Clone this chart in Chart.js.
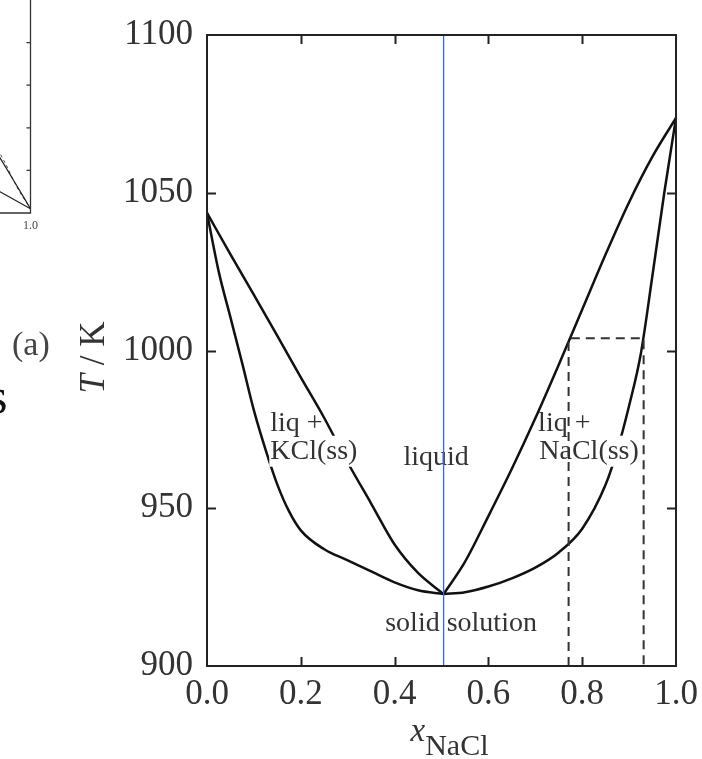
<!DOCTYPE html>
<html>
<head>
<meta charset="utf-8">
<script src="https://cdn.jsdelivr.net/npm/chart.js@4.4.0/dist/chart.umd.min.js"></script>
<style>
html, body { margin: 0; padding: 0; background: #fff; overflow: hidden; }
#wrap { position: relative; width: 702px; height: 759px; overflow: hidden; }
#side { position: absolute; left: -280px; top: 0; }
#main { position: absolute; left: 0; top: 0; }
</style>
</head>
<body>
<div id="wrap">
  <canvas id="side" width="324" height="240"></canvas>
  <canvas id="main" width="702" height="759"></canvas>
</div>
<script>
// KCl-NaCl phase diagram (right panel)
const serif = "'Liberation Serif', 'DejaVu Serif', serif";

// left liquidus / solidus (KCl rich side)
const liqLeftX = [0, 0.05, 0.1, 0.15, 0.2, 0.25, 0.3, 0.35, 0.4, 0.45, 0.5045];
const liqLeftT = [1043.6, 1030.5, 1017.6, 1004.6, 991.5, 978.6, 964.5, 951.5, 938.5, 929.5, 922.8];
const solLeftX = [0, 0.025, 0.05, 0.075, 0.1, 0.125, 0.15, 0.175, 0.2, 0.25, 0.3, 0.35, 0.4, 0.45, 0.5045];
const solLeftT = [1043.6, 1025, 1010.5, 996, 981, 968.5, 957.5, 949, 943, 937, 933.5, 930, 926.5, 924, 922.8];

// right liquidus / solidus (NaCl rich side)
const liqRightX = [0.5045, 0.55, 0.6, 0.65, 0.7, 0.75, 0.8, 0.85, 0.9, 0.95, 1.0];
const liqRightT = [922.8, 933, 947.5, 962.5, 978.5, 995.5, 1013, 1030.5, 1047, 1061.5, 1073.7];
const solRightX = [0.5045, 0.55, 0.6, 0.65, 0.7, 0.75, 0.8, 0.85, 0.875, 0.9, 0.925, 0.95, 0.975, 1.0];
const solRightT = [922.8, 923.4, 925.2, 927.8, 931.2, 936, 943.5, 957.5, 968.5, 982.5, 999, 1024, 1050, 1073.7];

// azeotrope marker and tie line
const azeoX = [0.5045, 0.5045];
const azeoT = [900, 1100];
const tieX = [0.771, 0.771, 0.931, 0.931];
const tieT = [900, 1003.9, 1003.9, 900];

// region labels
const regionText = ['liq +', 'KCl(ss)', 'liquid', 'liq +', 'NaCl(ss)', 'solid solution'];
const regionX = [0.135, 0.135, 0.419, 0.706, 0.7085, 0.380];
const regionT = [974.4, 965.7, 963.8, 974.4, 965.7, 911.1];
const regionMask = [false, true, false, false, true, false];

// fragment of neighbouring panel (cut off at left)
const sideUpperX = [0.8, 0.88, 0.939, 1.0];
const sideUpperY = [0.44, 0.282, 0.155, 0.02];
const sideLowerX = [0.8, 0.88, 1.0];
const sideLowerY = [0.167, 0.108, 0.02];
const sideDashX = [0.85, 0.904, 0.951, 1.0];
const sideDashY = [0.37, 0.249, 0.123, 0.02];

const pts = (xs, ys) => xs.map((x, i) => ({ x: x, y: ys[i] }));

function curve(xs, ys) {
    return {
        data: pts(xs, ys),
        borderColor: '#111',
        borderWidth: 2.5,
        pointRadius: 0,
        cubicInterpolationMode: 'monotone',
        order: 2
    };
}

function drawRegionLabels(chart) {
    const ctx = chart.ctx;
    const sx = chart.scales.x, sy = chart.scales.y;
    ctx.save();
    ctx.font = '28px ' + serif;
    ctx.textBaseline = 'alphabetic';
    ctx.textAlign = 'left';
    regionText.forEach((t, i) => {
        if (!regionMask[i]) return;
        const px = sx.getPixelForValue(regionX[i]);
        const py = sy.getPixelForValue(regionT[i]);
        const w = ctx.measureText(t).width;
        ctx.fillStyle = '#fff';
        ctx.fillRect(px - 1, py - 23, w + 2, 31);
    });
    ctx.fillStyle = '#333';
    regionText.forEach((t, i) => {
        ctx.fillText(t, sx.getPixelForValue(regionX[i]), sy.getPixelForValue(regionT[i]));
    });
    ctx.restore();
}

const framePlugin = {
    id: 'framePlugin',
    beforeDatasetDraw(chart, args) {
        // labels sit above the phase boundaries but below the tie line
        if (args.index === 1) drawRegionLabels(chart);
    },
    afterDraw(chart) {
        const ctx = chart.ctx;
        const a = chart.chartArea;
        const sx = chart.scales.x, sy = chart.scales.y;
        ctx.save();
        ctx.strokeStyle = '#222';
        ctx.lineWidth = 2;
        ctx.strokeRect(a.left, a.top, a.right - a.left, a.bottom - a.top);

        // inward ticks on all sides
        const tl = 9;
        ctx.beginPath();
        sx.ticks.forEach(t => {
            if (t.value <= sx.min || t.value >= sx.max) return;
            const p = Math.round(sx.getPixelForValue(t.value)) + 0.5;
            ctx.moveTo(p, a.bottom); ctx.lineTo(p, a.bottom - tl);
            ctx.moveTo(p, a.top); ctx.lineTo(p, a.top + tl);
        });
        sy.ticks.forEach(t => {
            if (t.value <= sy.min || t.value >= sy.max) return;
            const p = Math.round(sy.getPixelForValue(t.value)) + 0.5;
            ctx.moveTo(a.left, p); ctx.lineTo(a.left + tl, p);
            ctx.moveTo(a.right, p); ctx.lineTo(a.right - tl, p);
        });
        ctx.stroke();

        // y title: T / K
        ctx.fillStyle = '#333';
        ctx.textBaseline = 'middle';
        ctx.textAlign = 'left';
        ctx.translate(a.left - 112, (a.top + a.bottom) / 2 + 7);
        ctx.rotate(-Math.PI / 2);
        ctx.font = 'italic 35px ' + serif;
        const wT = ctx.measureText('T').width;
        ctx.font = '35px ' + serif;
        const wR = ctx.measureText(' / K').width;
        ctx.font = 'italic 35px ' + serif;
        ctx.fillText('T', -(wT + wR) / 2, 0);
        ctx.font = '35px ' + serif;
        ctx.fillText(' / K', -(wT + wR) / 2 + wT, 0);
        ctx.setTransform(1, 0, 0, 1, 0, 0);

        // x title: x_NaCl
        const cx = (a.left + a.right) / 2 - 31;
        ctx.textBaseline = 'alphabetic';
        ctx.font = 'italic 33px ' + serif;
        ctx.fillText('x', cx, a.bottom + 75);
        const wx = ctx.measureText('x').width;
        ctx.font = '30px ' + serif;
        ctx.fillText('NaCl', cx + wx, a.bottom + 89);

        // pieces of the neighbouring panel text
        ctx.fillStyle = '#444';
        ctx.font = '34px ' + serif;
        ctx.fillText('(a)', 12, 355);
        ctx.fillStyle = '#111';
        ctx.font = '50px ' + serif;
        ctx.fillText('s', -12, 413);
        ctx.restore();
    }
};

new Chart(document.getElementById('main'), {
    type: 'line',
    data: {
        datasets: [
            { data: pts(azeoX, azeoT), borderColor: '#2f68e0', borderWidth: 1.3, pointRadius: 0, order: 0 },
            { data: pts(tieX, tieT), borderColor: '#333', borderWidth: 2, borderDash: [9, 6], pointRadius: 0, order: 1 },
            curve(liqLeftX, liqLeftT),
            curve(solLeftX, solLeftT),
            curve(liqRightX, liqRightT),
            curve(solRightX, solRightT)
        ]
    },
    options: {
        responsive: false,
        animation: false,
        layout: { padding: { left: 0, top: 24, right: 26, bottom: 0 } },
        plugins: { legend: { display: false }, tooltip: { enabled: false } },
        scales: {
            x: {
                type: 'linear', min: 0, max: 1,
                grid: { display: false, drawTicks: false },
                border: { display: false },
                ticks: {
                    stepSize: 0.2, padding: 4, color: '#333', maxRotation: 0, autoSkip: false,
                    font: { family: serif, size: 35, lineHeight: 1.43 },
                    callback: v => v.toFixed(1)
                },
                afterFit: s => { s.height = 93; }
            },
            y: {
                type: 'linear', min: 900, max: 1100,
                grid: { display: false, drawTicks: false },
                border: { display: false },
                ticks: {
                    stepSize: 50, padding: 14, color: '#333',
                    font: { family: serif, size: 35 },
                    callback: v => String(v)
                },
                afterFit: s => { s.width = 207; }
            }
        }
    },
    plugins: [framePlugin]
});

// neighbouring panel fragment
const sideFrame = {
    id: 'sideFrame',
    afterDraw(chart) {
        const ctx = chart.ctx;
        const a = chart.chartArea;
        const sy = chart.scales.y;
        ctx.save();
        ctx.strokeStyle = '#333';
        ctx.lineWidth = 1.3;
        ctx.beginPath();
        ctx.moveTo(a.left, a.bottom); ctx.lineTo(a.right, a.bottom); ctx.lineTo(a.right, a.top);
        [0.2, 0.4, 0.6, 0.8].forEach(v => {
            const p = sy.getPixelForValue(v);
            ctx.moveTo(a.right, p); ctx.lineTo(a.right - 4, p);
        });
        ctx.stroke();
        ctx.restore();
    }
};

new Chart(document.getElementById('side'), {
    type: 'line',
    data: {
        datasets: [
            { data: pts(sideUpperX, sideUpperY), borderColor: '#222', borderWidth: 1.2, pointRadius: 0, cubicInterpolationMode: 'monotone' },
            { data: pts(sideLowerX, sideLowerY), borderColor: '#222', borderWidth: 1.2, pointRadius: 0 },
            { data: pts(sideDashX, sideDashY), borderColor: '#444', borderWidth: 1, borderDash: [3, 3], pointRadius: 0, cubicInterpolationMode: 'monotone' }
        ]
    },
    options: {
        responsive: false,
        animation: false,
        layout: { padding: { left: 30, top: 0, right: 10, bottom: 0 } },
        plugins: { legend: { display: false }, tooltip: { enabled: false } },
        scales: {
            x: {
                type: 'linear', min: 0, max: 1,
                grid: { display: false, drawTicks: false },
                border: { display: false },
                ticks: {
                    stepSize: 0.2, padding: 6, color: '#444', maxRotation: 0, autoSkip: false,
                    font: { family: serif, size: 12 },
                    callback: v => v.toFixed(1)
                },
                afterFit: s => { s.height = 27; }
            },
            y: { type: 'linear', min: 0, max: 1, display: false }
        }
    },
    plugins: [sideFrame]
});
</script>
</body>
</html>
